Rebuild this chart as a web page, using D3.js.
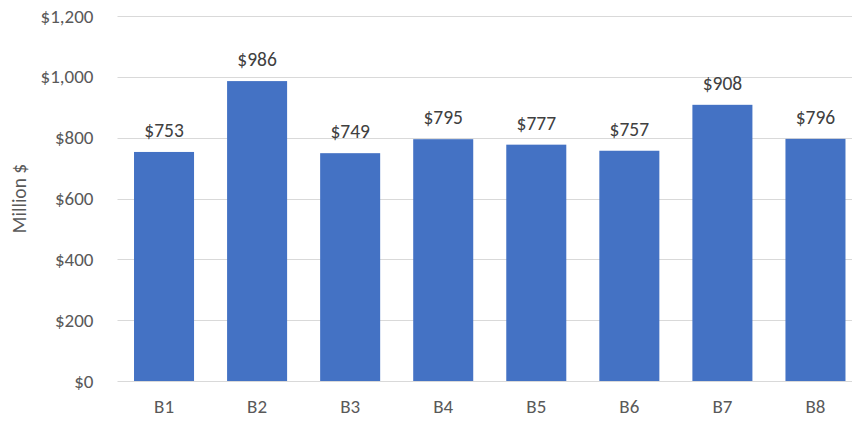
<!DOCTYPE html>
<html>
<head>
<meta charset="utf-8">
<script src="https://cdn.jsdelivr.net/npm/d3@7"></script>
<style>
  body { margin: 0; background: #fff; }
  text { font-family: Calibri, Carlito, "Liberation Sans", "DejaVu Sans", sans-serif; }
</style>
</head>
<body>
<script>
// data
var categories = ["B1", "B2", "B3", "B4", "B5", "B6", "B7", "B8"];
var values = [753, 986, 749, 795, 777, 757, 908, 796];
var yTicks = [0, 200, 400, 600, 800, 1000, 1200];

var W = 852, H = 421;
var margin = {top: 16, right: -10, bottom: 40, left: 117.5};
var width = W - margin.left - margin.right;   // 744
var height = H - margin.top - margin.bottom;  // 365

var svg = d3.select("body").append("svg")
    .attr("width", W)
    .attr("height", H);

var g = svg.append("g")
    .attr("transform", "translate(" + margin.left + "," + margin.top + ")");

var x = d3.scaleBand()
    .domain(categories)
    .range([0, width])
    .paddingInner(0.355)
    .paddingOuter(0.1775);

var y = d3.scaleLinear()
    .domain([0, 1200])
    .range([height, 0]);

var fmt = function(v) { return "$" + d3.format(",")(v); };

// gridlines
g.selectAll(".grid")
    .data(yTicks)
    .enter().append("line")
    .attr("x1", 0)
    .attr("x2", width)
    .attr("y1", function(d) { return Math.round(y(d)) + 0.5; })
    .attr("y2", function(d) { return Math.round(y(d)) + 0.5; })
    .attr("stroke", "#d9d9d9")
    .attr("stroke-width", 1);

// left axis (labels only)
var leftAxis = d3.axisLeft(y).tickValues(yTicks).tickFormat(fmt).tickSize(0).tickPadding(24);
g.append("g")
    .attr("class", "left axis")
    .call(leftAxis)
    .call(function(s) { s.select(".domain").remove(); })
    .selectAll("text")
        .attr("font-size", "19px")
        .attr("fill", "#595959")
        .attr("font-family", "Calibri, Carlito, 'Liberation Sans', sans-serif");

// bottom axis
var bottomAxis = d3.axisBottom(x).tickSize(0).tickPadding(19);
g.append("g")
    .attr("class", "bottom axis")
    .attr("transform", "translate(0," + height + ")")
    .call(bottomAxis)
    .call(function(s) { s.select(".domain").remove(); })
    .selectAll("text")
        .attr("font-size", "19px")
        .attr("fill", "#595959")
        .attr("font-family", "Calibri, Carlito, 'Liberation Sans', sans-serif");

// bars
g.selectAll("rect")
    .data(values)
    .enter().append("rect")
    .attr("x", function(d, i) { return x(categories[i]); })
    .attr("y", function(d) { return y(d); })
    .attr("width", x.bandwidth())
    .attr("height", function(d) { return height - y(d); })
    .attr("fill", "#4472c4");

// data labels
g.selectAll(".lbl")
    .data(values)
    .enter().append("text")
    .attr("class", "lbl")
    .attr("x", function(d, i) { return x(categories[i]) + x.bandwidth() / 2; })
    .attr("y", function(d) { return y(d) - 15; })
    .attr("text-anchor", "middle")
    .attr("font-size", "19.5px")
    .attr("fill", "#404040")
    .text(fmt);

// y title, centred on the plot area
svg.append("text")
    .attr("transform", "translate(26," + (margin.top + height / 2) + ") rotate(-90)")
    .attr("text-anchor", "middle")
    .attr("font-size", "19.5px")
    .attr("fill", "#595959")
    .text("Million $");
</script>
</body>
</html>
